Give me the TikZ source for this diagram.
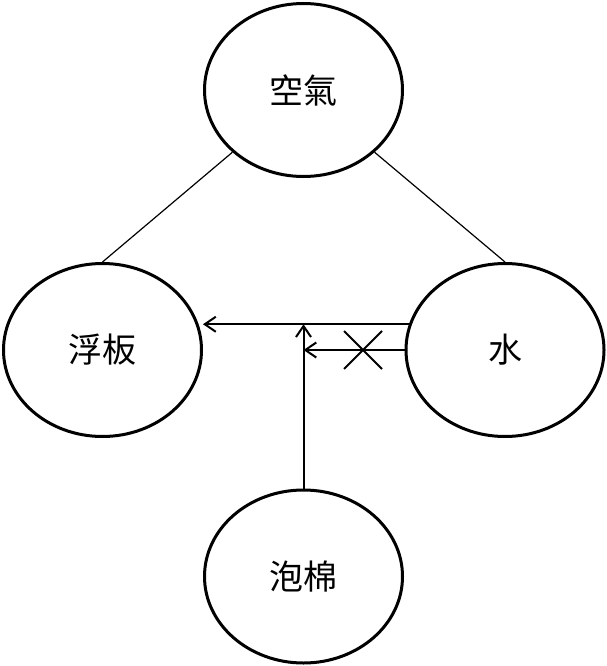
\documentclass[tikz,border=0pt]{standalone}
\usepackage{fontspec}
\newfontfamily\cjk{Noto Sans CJK TC}
\usetikzlibrary{positioning,shapes.geometric,shapes.misc,arrows.meta}

\begin{document}
\begin{tikzpicture}[
    x=1pt, y=-1pt,
    thing/.style={ellipse, draw, line width=3pt, minimum width=198pt, minimum height=173pt, inner sep=0pt, font=\cjk\fontsize{34}{40}\selectfont},
    link/.style={line width=1.2pt},
    push/.style={-{Straight Barb[length=11pt,width=15pt]}, line width=2pt},
    blocked/.style={cross out, draw, line width=2pt, minimum size=36pt, inner sep=0pt}
  ]
  \useasboundingbox (0,0) rectangle (607,666);
  % Things
  \node[thing] (air) at (303.5,90) {空氣};
  \node[thing] (float) at (102.5,350) {浮板};
  \node[thing] (water) at (505,350) {水};
  \node[thing] (foam) at (303.5,576.5) {泡棉};
  
  \draw[link] (air.south west) -- (float.north);
  \draw[link] (air.south east) -- (water.north);
  
  % Forces
  \draw[push] (water.165) -- (water.165 -| float.east);
  \draw[push] (water.west) -- (water.west -| foam.north);
  \draw[push] (foam.north) -- (foam.north |- water.165);
  \node[blocked] (cut) at (363,350) {};
  
\end{tikzpicture}
\end{document}
